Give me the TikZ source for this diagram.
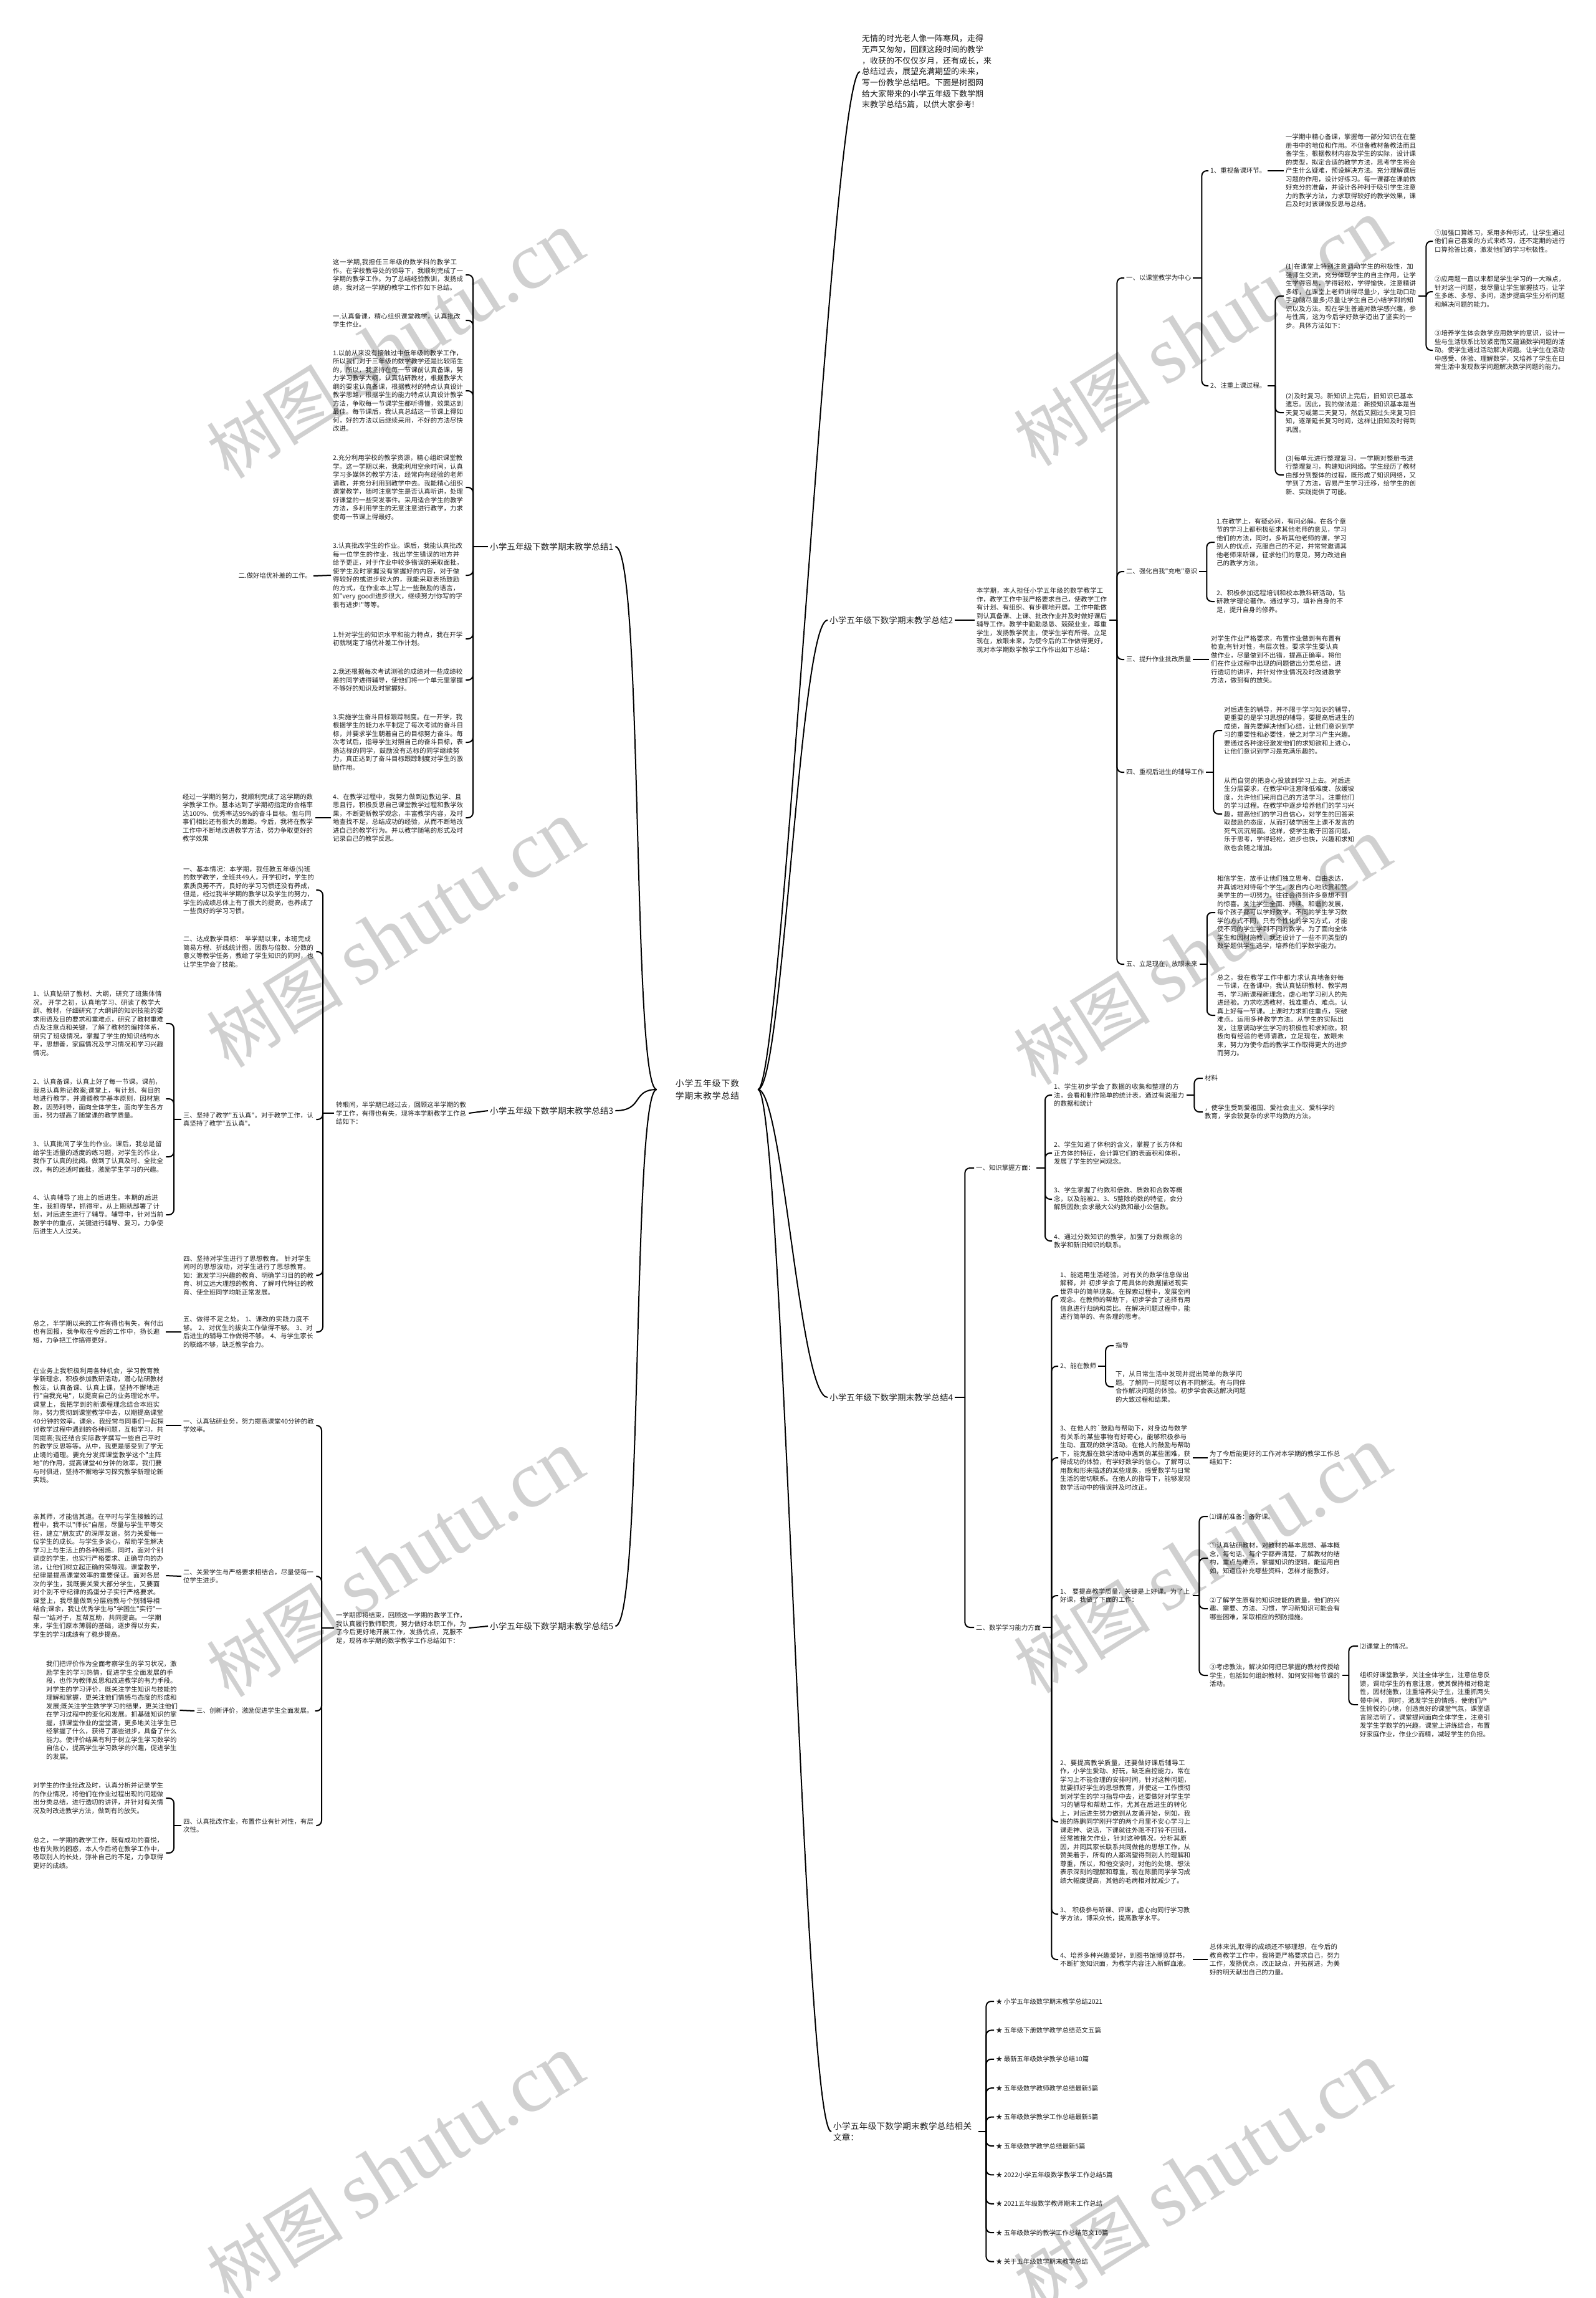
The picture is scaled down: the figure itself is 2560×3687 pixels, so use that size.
\documentclass[tikz,border=0pt]{standalone}
\usepackage{fontspec}
\usepackage{tikz}
\newfontfamily\cjk{Noto Sans CJK SC}
\newfontfamily\wmlatin{Liberation Serif}
\XeTeXlinebreaklocale "zh"
\XeTeXlinebreakskip=0pt plus 1pt
\definecolor{inkgray}{RGB}{30,30,30}
\definecolor{wmgray}{RGB}{208,208,208}
\tikzset{
  link/.style={draw=black,line width=2pt,rounded corners=8pt},
  spoke/.style={draw=black,line width=2pt},
  txt/.style={font=\cjk\fontsize{10.4}{13.5}\selectfont,text=inkgray,align=left,
              text width=210pt,inner xsep=3pt,inner ysep=1pt,anchor=west},
  lbl/.style={font=\cjk\fontsize{10.4}{13.5}\selectfont,text=inkgray,
              inner xsep=3pt,inner ysep=1pt,anchor=west},
  branch/.style={font=\cjk\fontsize{13.6}{18}\selectfont,text=inkgray,
                 inner xsep=3pt,inner ysep=1pt,anchor=west},
  root/.style={font=\cjk\fontsize{13.8}{20}\selectfont,text=inkgray,align=center,
               text width=156pt,inner sep=3pt},
  intro/.style={font=\cjk\fontsize{13}{17.7}\selectfont,text=inkgray,align=left,
                inner sep=3pt,anchor=west},
  wmk/.style={font=\cjk\fontsize{110}{110}\selectfont,text=wmgray,rotate=32,
              anchor=west,inner sep=0pt},
}
\begin{document}
\begin{tikzpicture}[x=1pt,y=-1pt]
  \fill[white] (0,0) rectangle (2560,3687);
  \useasboundingbox (0,0) rectangle (2560,3687);

  \foreach \x/\y [count=\i] in {345/735,1640/715,345/1680,1640/1708,345/2690,1640/2684,345/3660,1640/3672}
    \node[wmk] (wm\i) at (\x,\y) {树图 {\wmlatin\fontsize{130}{130}\selectfont shutu.cn}};

  \node[root] (root) at (1135,1748) {小学五年级下数学期末教学总结};

  \node[intro] (lead) at (1380,115)
    {无情的时光老人像一阵寒风，走得\\无声又匆匆，回顾这段时间的教学\\，收获的不仅仅岁月，还有成长，来\\总结过去，展望充满期望的未来，\\写一份教学总结吧。下面是树图网\\给大家带来的小学五年级下数学期\\末教学总结5篇，以供大家参考!};

  \node[branch] (sum1) at (783,877) {小学五年级下数学期末教学总结1};
  \node[branch] (sum2) at (1328,995) {小学五年级下数学期末教学总结2};
  \node[branch] (sum3) at (783,1782) {小学五年级下数学期末教学总结3};
  \node[branch] (sum4) at (1328,2242) {小学五年级下数学期末教学总结4};
  \node[branch] (sum5) at (783,2609) {小学五年级下数学期末教学总结5};
  \node[branch,text width=230pt,align=left] (rel) at (1334,3420) {小学五年级下数学期末教学总结相关文章：};

  \draw[spoke] (root.east) .. controls +(40,0) and +(-45,0) .. (lead.west);
  \draw[spoke] (root.east) .. controls +(40,0) and +(-45,0) .. (sum2.west);
  \draw[spoke] (root.east) .. controls +(40,0) and +(-45,0) .. (sum4.west);
  \draw[spoke] (root.east) .. controls +(40,0) and +(-45,0) .. (rel.west);
  \draw[spoke] (root.west) .. controls +(-40,0) and +(45,0) .. (sum1.east);
  \draw[spoke] (root.west) .. controls +(-40,0) and +(45,0) .. (sum3.east);
  \draw[spoke] (root.west) .. controls +(-40,0) and +(45,0) .. (sum5.east);

  % summary 1
  \node[txt] (a1) at (531,441) {这一学期,我担任三年级的数学科的教学工作。在学校教导处的领导下，我顺利完成了一学期的教学工作。为了总结经验教训，发扬成绩，我对这一学期的教学工作作如下总结。};
  \node[txt] (a2) at (531,514) {一.认真备课，精心组织课堂教学，认真批改学生作业。};
  \node[txt] (a3) at (531,627) {1.以前从来没有接触过中低年级的教学工作，所以我们对于三年级的数学教学还是比较陌生的，所以，我坚持在每一节课前认真备课，努力学习教学大纲，认真钻研教材，根据教学大纲的要求认真备课，根据教材的特点认真设计教学思路，根据学生的能力特点认真设计教学方法，争取每一节课学生都听得懂，效果达到最佳。每节课后，我认真总结这一节课上得如何，好的方法以后继续采用，不好的方法尽快改进。};
  \node[txt] (a4) at (531,782) {2.充分利用学校的教学资源，精心组织课堂教学。这一学期以来，我能利用空余时间，认真学习多媒体的教学方法，经常向有经验的老师请教，并充分利用到教学中去。我能精心组织课堂教学，随时注意学生是否认真听讲，处理好课堂的一些突发事件。采用适合学生的教学方法，多利用学生的无意注意进行教学，力求使每一节课上得最好。};
  \node[txt] (a5) at (531,923) {3.认真批改学生的作业。课后，我能认真批改每一位学生的作业，找出学生错误的地方并给予更正，对于作业中较多错误的采取面批，使学生及时掌握没有掌握好的内容，对于做得较好的或进步较大的，我能采取表扬鼓励的方式，在作业本上写上一些鼓励的语言，如"very good!进步很大，继续努力!你写的字很有进步!"等等。};
  \node[lbl,anchor=east] (a5x) at (503,924) {二.做好培优补差的工作。};
  \node[txt] (a6) at (531,1025) {1.针对学生的知识水平和能力特点，我在开学初就制定了培优补差工作计划。};
  \node[txt] (a7) at (531,1091) {2.我还根据每次考试测验的成绩对一些成绩较差的同学进得辅导，使他们将一个单元里掌握不够好的知识及时掌握好。};
  \node[txt] (a8) at (531,1191) {3.实施学生奋斗目标跟踪制度。在一开学，我根据学生的能力水平制定了每次考试的奋斗目标，并要求学生朝着自己的目标努力奋斗。每次考试后，指导学生对照自己的奋斗目标，表扬达标的同学，鼓励没有达标的同学继续努力，真正达到了奋斗目标跟踪制度对学生的激励作用。};
  \node[txt] (a9) at (531,1312) {4、在教学过程中，我努力做到边教边学、且思且行，积极反思自己课堂教学过程和教学效果，不断更新教学观念，丰富教学内容，及时地查找不足，总结成功的经验，从而不断地改进自己的教学行为。并以教学随笔的形式及时记录自己的教学反思。};
  \node[txt] (a9x) at (290,1312) {经过一学期的努力，我顺利完成了这学期的数学教学工作。基本达到了学期初指定的合格率达100\%、优秀率达95\%的奋斗目标。但与同事们相比还有很大的差距。今后，我将在教学工作中不断地改进教学方法，努力争取更好的教学效果};

  \path (sum1.west) ++(-24,0) coordinate (jA);
  \draw[link] (sum1.west) -- (jA);
  \foreach \n in {a1,a2,a3,a4,a5,a6,a7,a8,a9}
    \draw[link] (jA) |- (\n.east);
  \draw[link] (a5.west) -- (a5x.east);
  \draw[link] (a9.west) -- (a9x.east);

  % summary 2
  \node[txt] (b0) at (1564,995) {本学期，本人担任小学五年级的数学教学工作，教学工作中我严格要求自己，使教学工作有计划、有组织、有步骤地开展。工作中能做到认真备课、上课、批改作业并及时做好课后辅导工作。教学中勤勤恳恳、兢兢业业，尊重学生，发扬教学民主，使学生学有所得。立足现在，放眼未来，为使今后的工作做得更好，现对本学期数学教学工作作出如下总结：};
  \node[lbl] (bI) at (1804,446) {一、以课堂教学为中心};
  \node[lbl] (bI1) at (1939,274) {1、重视备课环节。};
  \node[txt] (bI1t) at (2060,274) {一学期中精心备课，掌握每一部分知识在在整册书中的地位和作用。不但备教材备教法而且备学生，根据教材内容及学生的实际，设计课的类型，拟定合适的教学方法，思考学生将会产生什么疑难，预设解决方法。充分理解课后习题的作用，设计好练习。每一课都在课前做好充分的准备，并设计各种利于吸引学生注意力的教学方法，力求取得较好的教学效果，课后及时对该课做反思与总结。};
  \node[lbl] (bI2) at (1939,619) {2、注重上课过程。};
  \node[txt] (bq1) at (2060,475) {(1)在课堂上特别注意调动学生的积极性，加强师生交流，充分体现学生的自主作用，让学生学得容易，学得轻松，学得愉快，注意精讲多练，在课堂上老师讲得尽量少，学生动口动手动脑尽量多;尽量让学生自己小结学到的知识以及方法。现在学生普遍对数学感兴趣，参与性高，这为今后学好数学迈出了坚实的一步。具体方法如下：};
  \node[txt] (bc1) at (2299,387) {①加强口算练习，采用多种形式，让学生通过他们自己喜爱的方式来练习，还不定期的进行口算抢答比赛，激发他们的学习积极性。};
  \node[txt] (bc2) at (2299,468) {②应用题一直以来都是学生学习的一大难点，针对这一问题，我尽量让学生掌握技巧，让学生多练、多想、多问，逐步提高学生分析问题和解决问题的能力。};
  \node[txt] (bc3) at (2299,562) {③培养学生体会数学应用数学的意识，设计一些与生活联系比较紧密而又蕴涵数学问题的活动。使学生通过活动解决问题。让学生在活动中感受、体验、理解数学，又培养了学生在日常生活中发现数学问题解决数学问题的能力。};
  \node[txt] (bq2) at (2060,662) {(2)及时复习。新知识上完后，旧知识已基本遗忘。因此，我的做法是：新授知识基本是当天复习或第二天复习，然后又回过头来复习旧知，逐渐延长复习时间，这样让旧知及时得到巩固。};
  \node[txt] (bq3) at (2060,762) {(3)每单元进行整理复习，一学期对整册书进行整理复习，构建知识网络。学生经历了教材由部分到整体的过程，既形成了知识网络，又学到了方法，容易产生学习迁移，给学生的创新、实践提供了可能。};
  \node[lbl] (bII) at (1804,917) {二、强化自我"充电"意识};
  \node[txt] (bII1) at (1949,870) {1.在教学上，有疑必问，有问必解。在各个章节的学习上都积极征求其他老师的意见，学习他们的方法，同时，多听其他老师的课，学习别人的优点，克服自己的不足，并常常邀请其他老师来听课，征求他们的意见，努力改进自己的教学方法。};
  \node[txt] (bII2) at (1949,965) {2、积极参加远程培训和校本教科研活动，钻研教学理论著作。通过学习，填补自身的不足，提升自身的修养。};
  \node[lbl] (bIII) at (1804,1058) {三、提升作业批改质量};
  \node[txt] (bIIIt) at (1940,1058) {对学生作业严格要求，布置作业做到有布置有检查;有针对性，有层次性。要求学生要认真做作业，尽量做到不出错，提高正确率。将他们在作业过程中出现的问题做出分类总结，进行透切的讲评，并针对作业情况及时改进教学方法，做到有的放矢。};
  \node[lbl] (bIV) at (1804,1239) {四、重视后进生的辅导工作};
  \node[txt] (bIV1) at (1961,1172) {对后进生的辅导，并不限于学习知识的辅导，更重要的是学习思想的辅导，要提高后进生的成绩，首先要解决他们心结，让他们意识到学习的重要性和必要性，使之对学习产生兴趣。要通过各种途径激发他们的求知欲和上进心，让他们意识到学习是充满乐趣的。};
  \node[txt] (bIV2) at (1961,1306) {从而自觉的把身心投放到学习上去。对后进生分层要求，在教学中注意降低难度、放缓坡度，允许他们采用自己的方法学习。注重他们的学习过程。在教学中逐步培养他们的学习兴趣，提高他们的学习自信心，对学生的回答采取鼓励的态度，从而打破学困生上课不发言的死气沉沉局面。这样，使学生敢于回答问题，乐于思考，学得轻松，进步也快，兴趣和求知欲也会随之增加。};
  \node[lbl] (bV) at (1804,1547) {五、立足现在，放眼未来};
  \node[txt] (bV1) at (1950,1464) {相信学生，放手让他们独立思考、自由表达，并真诚地对待每个学生，发自内心地欣赏和赞美学生的一切努力，往往会得到许多意想不到的惊喜。关注学生全面、持续、和谐的发展，每个孩子都可以学好数学。不同的学生学习数学的方式不同，只有个性化的学习方式，才能使不同的学生学到不同的数学。为了面向全体学生和因材施教，我还设计了一些不同类型的数学题供学生选学，培养他们学数学能力。};
  \node[txt] (bV2) at (1950,1629) {总之，我在教学工作中都力求认真地备好每一节课，在备课中，我认真钻研教材、教学用书，学习新课程新理念，虚心地学习别人的先进经验。力求吃透教材，找准重点、难点。认真上好每一节课。上课时力求抓住重点，突破难点。运用多种教学方法。从学生的实际出发，注意调动学生学习的积极性和求知欲。积极向有经验的老师请教，立足现在，放眼未来，努力为使今后的教学工作取得更大的进步而努力。};

  \draw[link] (sum2.east) -- (b0.west);
  \path (b0.east) ++(12,0) coordinate (jB);
  \draw[link] (b0.east) -- (jB);
  \foreach \n in {bI,bII,bIII,bIV,bV}
    \draw[link] (jB) |- (\n.west);
  \path (bI.east) ++(14,0) coordinate (jB1);
  \draw[link] (bI.east) -- (jB1);
  \foreach \n in {bI1,bI2}
    \draw[link] (jB1) |- (\n.west);
  \draw[link] (bI1.east) -- (bI1t.west);
  \path (bI2.east) ++(12,0) coordinate (jB12);
  \draw[link] (bI2.east) -- (jB12);
  \foreach \n in {bq1,bq2,bq3}
    \draw[link] (jB12) |- (\n.west);
  \path (bq1.east) ++(12,0) coordinate (jBq);
  \draw[link] (bq1.east) -- (jBq);
  \foreach \n in {bc1,bc2,bc3}
    \draw[link] (jBq) |- (\n.west);
  \path (bII.east) ++(12,0) coordinate (jB2);
  \draw[link] (bII.east) -- (jB2);
  \foreach \n in {bII1,bII2}
    \draw[link] (jB2) |- (\n.west);
  \draw[link] (bIII.east) -- (bIIIt.west);
  \path (bIV.east) ++(12,0) coordinate (jB4);
  \draw[link] (bIV.east) -- (jB4);
  \foreach \n in {bIV1,bIV2}
    \draw[link] (jB4) |- (\n.west);
  \path (bV.east) ++(12,0) coordinate (jB5);
  \draw[link] (bV.east) -- (jB5);
  \foreach \n in {bV1,bV2}
    \draw[link] (jB5) |- (\n.west);

  % summary 3
  \node[txt] (c0) at (536,1786) {转眼间，半学期已经过去，回顾这半学期的教学工作，有得也有失，现将本学期教学工作总结如下：};
  \node[txt] (cI) at (291,1428) {一、基本情况：本学期，我任教五年级(5)班的数学教学，全班共49人，开学初时，学生的素质良莠不齐，良好的学习习惯还没有养成，但是，经过我半学期的教学以及学生的努力，学生的成绩总体上有了很大的提高，也养成了一些良好的学习习惯。};
  \node[txt] (cII) at (291,1527) {二、达成教学目标： 半学期以来，本班完成简易方程、折线统计图，因数与倍数、分数的意义等教学任务，教给了学生知识的同时，也让学生学会了技能。};
  \node[txt] (cIII) at (291,1796) {三、坚持了教学"五认真"。对于教学工作，认真坚持了教学"五认真"。};
  \node[txt] (cIII1) at (50,1642) {1、认真钻研了教材、大纲，研究了班集体情况。 开学之初，认真地学习、研读了教学大纲、教材，仔细研究了大纲讲的知识技能的要求用语及目的要求和重难点，研究了教材重难点及注意点和关键，了解了教材的编排体系，研究了班级情况，掌握了学生的知识结构水平，思想善，家庭情况及学习情况和学习兴趣情况。};
  \node[txt] (cIII2) at (50,1763) {2、认真备课，认真上好了每一节课。课前，我总认真熟记教案;课堂上，有计划、有目的地进行教学，并遵循教学基本原则，因材施教，因势利导，面向全体学生，面向学生各方面，努力提高了随堂课的教学质量。};
  \node[txt] (cIII3) at (50,1856) {3、认真批阅了学生的作业。课后，我总是留给学生适量的适度的练习题，对学生的作业，我作了认真的批阅。做到了认真及时、全批全改。有的还适时面批，激励学生学习的兴趣。};
  \node[txt] (cIII4) at (50,1949) {4、认真辅导了班上的后进生。本期的后进生，我抓得早，抓得牢，从上期就部署了计划，对后进生进行了辅导。辅导中，针对当前教学中的重点，关键进行辅导、复习，力争使后进生人人过关。};
  \node[txt] (cIV) at (291,2046) {四、坚持对学生进行了思想教育。 针对学生间时的思想波动，对学生进行了思想教育。如：激发学习兴趣的教育、明确学习目的的教育、树立远大理想的教育、了解时代特征的教育、使全班同学均能正常发展。};
  \node[txt] (cV) at (291,2137) {五、做得不足之处。 1、课改的实践力度不够。 2、对优生的拔尖工作做得不够。 3、对后进生的辅导工作做得不够。 4、与学生家长的联络不够，缺乏教学合力。};
  \node[txt] (cVt) at (50,2137) {总之，半学期以来的工作有得也有失，有付出也有回报，我争取在今后的工作中，扬长避短，力争把工作搞得更好。};

  \draw[link] (sum3.west) -- (c0.east);
  \path (c0.west) ++(-18,0) coordinate (jC);
  \draw[link] (c0.west) -- (jC);
  \foreach \n in {cI,cII,cIII,cIV,cV}
    \draw[link] (jC) |- (\n.east);
  \path (cIII.west) ++(-12,0) coordinate (jC3);
  \draw[link] (cIII.west) -- (jC3);
  \foreach \n in {cIII1,cIII2,cIII3,cIII4}
    \draw[link] (jC3) |- (\n.east);
  \draw[link] (cV.west) -- (cVt.east);

  % summary 4
  \node[lbl] (dI) at (1563,1874) {一、知识掌握方面：};
  \node[txt] (dI1) at (1688,1757) {1、学生初步学会了数据的收集和整理的方法，会看和制作简单的统计表，通过有说服力的数据和统计};
  \node[lbl] (dI1a) at (1930,1730) {材料};
  \node[txt] (dI1b) at (1930,1784) {，使学生受到爱祖国、爱社会主义、爱科学的教育，学会较复杂的求平均数的方法。};
  \node[txt] (dI2) at (1688,1850) {2、学生知道了体积的含义，掌握了长方体和正方体的特征，会计算它们的表面积和体积，发展了学生的空间观念。};
  \node[txt] (dI3) at (1688,1924) {3、学生掌握了约数和倍数、质数和合数等概念，以及能被2、3、5整除的数的特征，会分解质因数;会求最大公约数和最小公倍数。};
  \node[txt] (dI4) at (1688,1991) {4、通过分数知识的教学，加强了分数概念的教学和新旧知识的联系。};
  \node[lbl] (dII) at (1563,2611) {二、数学学习能力方面};
  \node[txt] (dII1) at (1698,2079) {1、能运用生活经验，对有关的数学信息做出解释，并 初步学会了用具体的数据描述现实世界中的简单现象。在探索过程中，发展空间观念。在教师的帮助下，初步学会了选择有用信息进行归纳和类比。在解决问题过程中，能进行简单的、有条理的思考。};
  \node[lbl] (dII2) at (1698,2192) {2、能在教师};
  \node[lbl] (dII2a) at (1787,2159) {指导};
  \node[txt] (dII2b) at (1787,2225) {下，从日常生活中发现并提出简单的数学问题。了解同一问题可以有不同解法。有与同伴合作解决问题的体验。初步学会表达解决问题的大致过程和结果。};
  \node[txt] (dII3) at (1698,2339) {3、在他人的`鼓励与帮助下，对身边与数学有关系的某些事物有好奇心，能够积极参与生动、直观的数学活动。在他人的鼓励与帮助下，能克服在数学活动中遇到的某些困难，获得成功的体验，有学好数学的信心。了解可以用数和形来描述的某些现象，感受数学与日常生活的密切联系。在他人的指导下，能够发现数学活动中的错误并及时改正。};
  \node[txt] (dII3t) at (1938,2339) {为了今后能更好的工作对本学期的教学工作总结如下：};
  \node[txt] (dII4) at (1698,2560) {1、 要提高教学质量，关键是上好课。为了上好课，我做了下面的工作：};
  \node[lbl] (dII4a) at (1938,2433) {⑴课前准备：备好课。};
  \node[txt] (dII4b) at (1938,2500) {①认真钻研教材，对教材的基本思想、基本概念，每句话、每个字都弄清楚，了解教材的结构，重点与难点，掌握知识的逻辑，能运用自如，知道应补充哪些资料，怎样才能教好。};
  \node[txt] (dII4c) at (1938,2581) {②了解学生原有的知识技能的质量，他们的兴趣、需要、方法、习惯，学习新知识可能会有哪些困难，采取相应的预防措施。};
  \node[txt] (dII4d) at (1938,2688) {③考虑教法，解决如何把已掌握的教材传授给学生，包括如何组织教材、如何安排每节课的活动。};
  \node[lbl] (dII4e) at (2179,2641) {⑵课堂上的情况。};
  \node[txt] (dII4f) at (2179,2735) {组织好课堂教学，关注全体学生，注意信息反馈，调动学生的有意注意，使其保持相对稳定性，因材施教，注重培养尖子生，注重抓两头带中间， 同时，激发学生的情感，使他们产生愉悦的心境，创造良好的课堂气氛，课堂语言简洁明了，课堂提问面向全体学生，注意引发学生学数学的兴趣，课堂上讲练结合，布置好家庭作业，作业少而精，减轻学生的负担。};
  \node[txt] (dII5) at (1698,2923) {2、要提高教学质量，还要做好课后辅导工作，小学生爱动、好玩，缺乏自控能力，常在学习上不能合理的安排时间，针对这种问题，就要抓好学生的思想教育，并使这一工作惯彻到对学生的学习指导中去，还要做好对学生学习的辅导和帮助工作，尤其在后进生的转化上，对后进生努力做到从友善开始，例如，我班的陈鹏同学刚开学的两个月里不安心学习上课走神、说话，下课就往外跑不打铃不回班，经常被拖欠作业，针对这种情况，分析其原因，并同其家长联系共同做他的思想工作，从赞美着手，所有的人都渴望得到别人的理解和尊重，所以，和他交谈时，对他的处境、想法表示深刻的理解和尊重，现在陈鹏同学学习成绩大幅度提高，其他的毛病相对就减少了。};
  \node[txt] (dII6) at (1698,3071) {3、 积极参与听课、评课，虚心向同行学习教学方法，博采众长，提高教学水平。};
  \node[txt] (dII7) at (1698,3144) {4、培养多种兴趣爱好，到图书馆博览群书，不断扩宽知识面，为教学内容注入新鲜血液。};
  \node[txt] (dII7t) at (1938,3144) {总体来说,取得的成绩还不够理想，在今后的教育教学工作中，我将更严格要求自己，努力工作，发扬优点，改正缺点，开拓前进，为美好的明天献出自己的力量。};

  \path (sum4.east) ++(16,0) coordinate (jD);
  \draw[link] (sum4.east) -- (jD);
  \foreach \n in {dI,dII}
    \draw[link] (jD) |- (\n.west);
  \path (dI.east) ++(14,0) coordinate (jD1);
  \draw[link] (dI.east) -- (jD1);
  \foreach \n in {dI1,dI2,dI3,dI4}
    \draw[link] (jD1) |- (\n.west);
  \path (dI1.east) ++(12,0) coordinate (jD11);
  \draw[link] (dI1.east) -- (jD11);
  \foreach \n in {dI1a,dI1b}
    \draw[link] (jD11) |- (\n.west);
  \path (dII.east) ++(14,0) coordinate (jD2);
  \draw[link] (dII.east) -- (jD2);
  \foreach \n in {dII1,dII2,dII3,dII4,dII5,dII6,dII7}
    \draw[link] (jD2) |- (\n.west);
  \path (dII2.east) ++(12,0) coordinate (jD22);
  \draw[link] (dII2.east) -- (jD22);
  \foreach \n in {dII2a,dII2b}
    \draw[link] (jD22) |- (\n.west);
  \draw[link] (dII3.east) -- (dII3t.west);
  \path (dII4.east) ++(10,0) coordinate (jD24);
  \draw[link] (dII4.east) -- (jD24);
  \foreach \n in {dII4a,dII4b,dII4c,dII4d}
    \draw[link] (jD24) |- (\n.west);
  \path (dII4d.east) ++(10,0) coordinate (jD244);
  \draw[link] (dII4d.east) -- (jD244);
  \foreach \n in {dII4e,dII4f}
    \draw[link] (jD244) |- (\n.west);
  \draw[link] (dII7.east) -- (dII7t.west);

  % summary 5
  \node[txt] (e0) at (536,2612) {一学期即将结束，回顾这一学期的教学工作，我认真履行教师职责，努力做好本职工作，为了今后更好地开展工作，发扬优点，克服不足，现将本学期的数学教学工作总结如下：};
  \node[txt] (eI) at (291,2287) {一、认真钻研业务，努力提高课堂40分钟的教学效率。};
  \node[txt] (eIt) at (50,2287) {在业务上我积极利用各种机会，学习教育教学新理念，积极参加教研活动，潜心钻研教材教法，认真备课、认真上课，坚持不懈地进行"自我充电"，以提高自己的业务理论水平。课堂上，我把学到的新课程理念结合本班实际，努力贯彻到课堂教学中去，以期提高课堂40分钟的效率。课余，我经常与同事们一起探讨教学过程中遇到的各种问题，互相学习，共同提高;我还结合实际教学撰写一些自己平时的教学反思等等。从中，我更是感受到了学无止境的道理。要充分发挥课堂教学这个"主阵地"的作用，提高课堂40分钟的效率，我们要与时俱进，坚持不懈地学习探究教学新理论新实践。};
  \node[txt] (eII) at (291,2529) {二、关爱学生与严格要求相结合，尽量使每一位学生进步。};
  \node[txt] (eIIt) at (50,2528) {亲其师，才能信其道。在平时与学生接触的过程中，我不以"师长"自居，尽量与学生平等交往，建立"朋友式"的深厚友谊，努力关爱每一位学生的成长。与学生多谈心，帮助学生解决学习上与生活上的各种困惑。同时，面对个别调皮的学生，也实行严格要求、正确导向的办法，让他们树立起正确的荣辱观。课堂教学，纪律是提高课堂效率的重要保证。面对各层次的学生，我既要关爱大部分学生，又要面对个别不守纪律的捣蛋分子实行严格要求。课堂上，我尽量做到分层施教与个别辅导相结合;课余，我让优秀学生与"学困生"实行"一帮一"结对子，互帮互助，共同提高。一学期来，学生们原本薄弱的基础，逐步得以夯实，学生的学习成绩有了稳步提高。};
  \node[lbl] (eIII) at (312,2745) {三、创新评价，激励促进学生全面发展。};
  \node[txt,text width=211pt] (eIIIt) at (71,2744) {我们把评价作为全面考察学生的学习状况，激励学生的学习热情，促进学生全面发展的手段，也作为教师反思和改进教学的有力手段。对学生的学习评价，既关注学生知识与技能的理解和掌握，更关注他们情感与态度的形成和发展;既关注学生数学学习的结果，更关注他们在学习过程中的变化和发展。抓基础知识的掌握，抓课堂作业的堂堂清，更多地关注学生已经掌握了什么，获得了那些进步，具备了什么能力。使评价结果有利于树立学生学习数学的自信心，提高学生学习数学的兴趣，促进学生的发展。};
  \node[txt] (eIV) at (291,2929) {四、认真批改作业，布置作业有针对性，有层次性。};
  \node[txt] (eIV1) at (50,2885) {对学生的作业批改及时，认真分析并记录学生的作业情况，将他们在作业过程出现的问题做出分类总结，进行透切的讲评，并针对有关情况及时改进教学方法，做到有的放矢。};
  \node[txt] (eIV2) at (50,2973) {总之，一学期的教学工作，既有成功的喜悦，也有失败的困惑，本人今后将在教学工作中，吸取别人的长处，弥补自己的不足，力争取得更好的成绩。};

  \draw[link] (sum5.west) -- (e0.east);
  \path (e0.west) ++(-20,0) coordinate (jE);
  \draw[link] (e0.west) -- (jE);
  \foreach \n in {eI,eII,eIII,eIV}
    \draw[link] (jE) |- (\n.east);
  \draw[link] (eI.west) -- (eIt.east);
  \draw[link] (eII.west) -- (eIIt.east);
  \draw[link] (eIII.west) -- (eIIIt.east);
  \path (eIV.west) ++(-12,0) coordinate (jE4);
  \draw[link] (eIV.west) -- (jE4);
  \foreach \n in {eIV1,eIV2}
    \draw[link] (jE4) |- (\n.east);

  % related articles
  \foreach \t [count=\i] in {小学五年级数学期末教学总结2021,五年级下册数学教学总结范文五篇,
      最新五年级数学教学总结10篇,五年级数学教师教学总结最新5篇,五年级数学教学工作总结最新5篇,
      五年级数学教学总结最新5篇,2022小学五年级数学教学工作总结5篇,2021五年级数学教师期末工作总结,
      五年级数学的教学工作总结范文10篇,关于五年级数学期末教学总结}
    \node[lbl] (r\i) at (1595,{3211+46.4*(\i-1)}) {★ \t};
  \path (rel.east) ++(12,0) coordinate (jR);
  \draw[link] (rel.east) -- (jR);
  \foreach \i in {1,...,10}
    \draw[link] (jR) |- (r\i.west);
\end{tikzpicture}
\end{document}
